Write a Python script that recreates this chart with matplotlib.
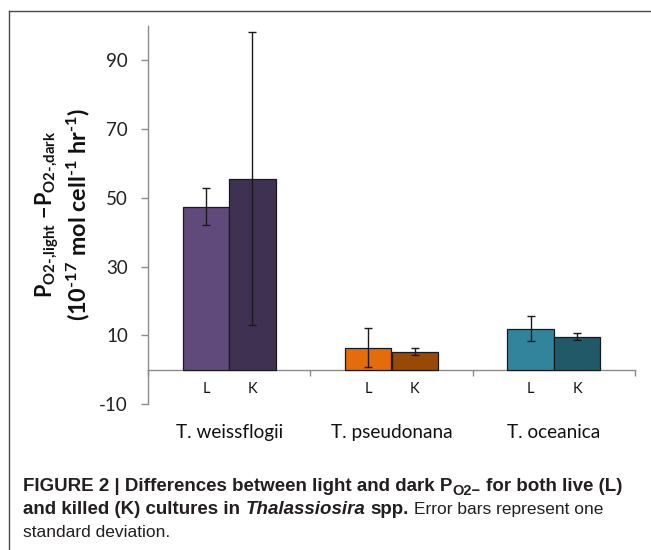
import matplotlib
matplotlib.use('Agg')
import matplotlib.pyplot as plt
import numpy as np
from matplotlib.lines import Line2D

# ---------------- data ----------------
species = ['T. weissflogii', 'T. pseudonana', 'T. oceanica']
treatments = ['L', 'K']
values_L = [47.4, 6.4, 11.9]
values_K = [55.6, 5.2, 9.6]
err_L = [5.4, 5.6, 3.6]
err_K = [42.6, 1.0, 1.1]
colors_L = ['#604a7b', '#e46c0a', '#31849b']
colors_K = ['#3f3151', '#984807', '#215968']
yticks = [-10, 10, 30, 50, 70, 90]

W, H = 651, 550
plt.rcParams['mathtext.fontset'] = 'custom'
plt.rcParams['mathtext.rm'] = 'Lato:bold'
plt.rcParams['mathtext.bf'] = 'Lato:bold'
plt.rcParams['mathtext.it'] = 'Lato:bold'

fig = plt.figure(figsize=(W / 100, H / 100), dpi=100)
ax = fig.add_axes([148 / W, 1 - 404 / H, 487 / W, 378 / H])

x = np.arange(len(species))
w = 0.286
ekw = dict(ecolor='#1a1a1a', elinewidth=1.0, capsize=3.2, capthick=1.0)
ax.bar(x - w / 2, values_L, w, color=colors_L, edgecolor='#1a1a1a',
       linewidth=0.9, yerr=err_L, error_kw=ekw, zorder=3)
ax.bar(x + w / 2, values_K, w, color=colors_K, edgecolor='#1a1a1a',
       linewidth=0.9, yerr=err_K, error_kw=ekw, zorder=3)

ax.set_xlim(-0.5, len(species) - 0.5)
ax.set_ylim(-10, 100)
for s in ['top', 'right']:
    ax.spines[s].set_visible(False)
ax.spines['bottom'].set_position(('data', 0))
ax.spines['bottom'].set_color('#8c8c8c')
ax.spines['left'].set_color('#8c8c8c')
ax.spines['bottom'].set_linewidth(1.0)
ax.spines['left'].set_linewidth(1.0)

ax.set_yticks(yticks)
ax.set_yticklabels([str(v) for v in yticks], fontfamily='Lato', fontsize=13.5,
                   color='#222222')
ax.tick_params(axis='y', direction='out', length=5, width=1.0, color='#8c8c8c',
               pad=9.5)
ax.set_xticks(np.arange(len(species) + 1) - 0.5)
ax.set_xticklabels([])
ax.tick_params(axis='x', direction='out', length=4.5, width=1.0, color='#8c8c8c')

for i, sp in enumerate(species):
    for j, t in enumerate(treatments):
        ax.text(i + (j - 0.5) * w, -5.6, t, ha='center', va='center',
                fontfamily='Lato', fontsize=10.5, color='#111111')
    ax.text(i, -18.4, sp, ha='center', va='center', fontfamily='Lato',
            fontsize=13.7, color='#111111')

# y label (two rotated lines)
fig.text(47 / W, 1 - 214 / H,
         r'$\mathbf{P}_{\text{O2-,light}}\ \mathbf{-}\mathbf{P}_{\text{O2-,dark}}$',
         rotation=90, ha='center', va='center', fontsize=15.5, color='#111111')
fig.text(78 / W, 1 - 215 / H,
         r'$\text{(10}^{\text{-17}}\text{ mol cell}^{\text{-1}}\text{ hr}^{\text{-1}}\text{)}$',
         rotation=90, ha='center', va='center', fontsize=16.8, color='#111111')

# frame (left and top lines)
fig.add_artist(Line2D([9 / W, 9 / W], [0, 1 - 11 / H], transform=fig.transFigure,
                      color='#4a4a4a', linewidth=1.0))
fig.add_artist(Line2D([9 / W, 1], [1 - 11 / H, 1 - 11 / H], transform=fig.transFigure,
                      color='#4a4a4a', linewidth=1.0))

# caption with mixed styles
cap_family = ['Liberation Sans']
bold_size = 13.5
reg_size = 12.5
renderer = fig.canvas.get_renderer()


def text_width(s, size, **kw):
    t = fig.text(0, 0, s, fontfamily=cap_family, fontsize=size, **kw)
    wdt = t.get_window_extent(renderer).width
    t.remove()
    return wdt


space_w = (text_width('a a', bold_size, fontweight='bold')
           - text_width('aa', bold_size, fontweight='bold'))


def place_line(x0, base_y, segments):
    xp = x0
    for seg, kw, dy, size, gap in segments:
        t = fig.text(xp / W, 1 - (base_y + dy) / H, seg, ha='left', va='baseline',
                     fontfamily=cap_family, fontsize=size,
                     color='#231f20', **kw)
        xp = t.get_window_extent(renderer).x1 + (space_w if gap else 0)


B = dict(fontweight='bold')
BI = dict(fontweight='bold', fontstyle='italic')
R = dict(fontweight='normal')
place_line(23, 491, [
    ('FIGURE 2 | Differences between light and dark P', B, 0, bold_size, False),
    ('O2\u2212', B, 4, bold_size * 0.78, True),
    ('for both live (L)', B, 0, bold_size, False),
])
place_line(23, 514, [
    ('and killed (K) cultures in', B, 0, bold_size, True),
    ('Thalassiosira', BI, 0, bold_size, True),
    ('spp.', B, 0, bold_size, True),
    ('Error bars represent one', R, 0, reg_size, False),
])
place_line(23, 537, [
    ('standard deviation.', R, 0, reg_size, False),
])

fig.savefig('out.png', dpi=100)
